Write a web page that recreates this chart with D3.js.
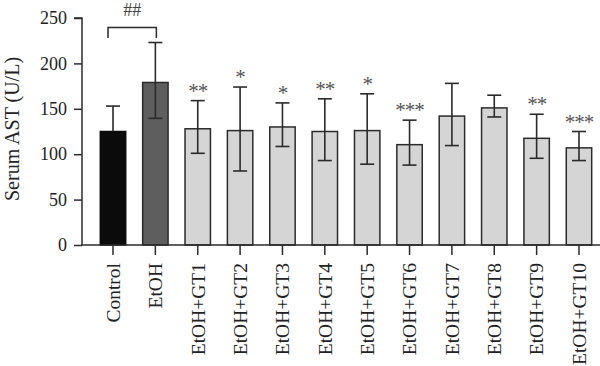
<!DOCTYPE html>
<html><head><meta charset="utf-8">
<script src="https://cdn.jsdelivr.net/npm/d3@7"></script>
<style>body{margin:0;background:#fff}svg{display:block}</style>
</head><body>
<svg id="c" width="600" height="366"></svg>
<script>
const categories = ["Control","EtOH","EtOH+GT1","EtOH+GT2","EtOH+GT3","EtOH+GT4","EtOH+GT5","EtOH+GT6","EtOH+GT7","EtOH+GT8","EtOH+GT9","EtOH+GT10"];
const means = [125,179,128,126,130,125,126,110.5,142,151,117.5,107];
const errUpper = [153,223,159,174,156.5,161,166.5,137.5,178,165,144,125];
const errLower = [97,139.5,101,81.5,108.5,93,89,88,109.5,141,95.5,93];
const sigLabels = ["","","**","*","*","**","*","***","","","**","***"];
const yTicks = [0,50,100,150,200,250];
const barColors = ["#0b0b0b","#5e5e5e","#d5d5d5"];

const svg = d3.select("#c");
const font = "Liberation Serif";
const x = d3.scaleBand().domain(categories).range([82,610]).paddingInner(0.4).paddingOuter(0.432);
const y = d3.scaleLinear().domain([0,250]).range([245,18]);
const ink = "#2b2b2b";

// bars
svg.selectAll("rect.bar").data(categories).enter().append("rect")
  .attr("x", d=>x(d)).attr("width", x.bandwidth())
  .attr("y", (d,i)=>y(means[i])).attr("height",(d,i)=>y(0)-y(means[i]))
  .attr("fill",(d,i)=>barColors[Math.min(i,2)])
  .attr("stroke",(d,i)=> i===0 ? "#0b0b0b" : ink).attr("stroke-width",1.5);

// error bars
const cap = 7;
categories.forEach((c,i)=>{
  const cx = x(c)+x.bandwidth()/2;
  const g = svg.append("g").attr("stroke", ink).attr("stroke-width",1.6).attr("fill","none");
  const lo = i===0 ? means[i] : errLower[i];
  g.append("line").attr("x1",cx).attr("x2",cx).attr("y1",y(errUpper[i])).attr("y2",y(lo));
  g.append("line").attr("x1",cx-cap).attr("x2",cx+cap).attr("y1",y(errUpper[i])).attr("y2",y(errUpper[i]));
  if(i!==0) g.append("line").attr("x1",cx-cap).attr("x2",cx+cap).attr("y1",y(errLower[i])).attr("y2",y(errLower[i]));
  if(sigLabels[i]) svg.append("text").attr("x",cx).attr("y",y(errUpper[i])-3)
    .attr("text-anchor","middle").attr("font-family",font).attr("font-size",21)
    .attr("letter-spacing",-1).attr("fill","#555").text(sigLabels[i]);
});

// bracket ##
const c0 = x(categories[0])+x.bandwidth()/2-5, c1 = x(categories[1])+x.bandwidth()/2+1;
const by = y(errUpper[1]);
svg.append("path").attr("d",`M${c0},${by-4.5}V${by-15}H${c1}V${by-4.5}`)
  .attr("fill","none").attr("stroke",ink).attr("stroke-width",1.5);
svg.append("text").attr("x",(c0+c1)/2).attr("y",by-26.5).attr("text-anchor","middle")
  .attr("font-family",font).attr("font-size",18).attr("fill","#444").text("##");

// y axis
const ya = svg.append("g").attr("transform","translate(82,0)")
  .call(d3.axisLeft(y).tickValues(yTicks).tickSize(8).tickPadding(7));
ya.select(".domain").attr("stroke",ink).attr("stroke-width",1.5).attr("d","M-8,18H0V245");
ya.selectAll(".tick line").attr("stroke",ink).attr("stroke-width",1.5);
ya.selectAll(".tick text").attr("font-family",font).attr("font-size",18).attr("fill","#222");

// x axis
const xa = svg.append("g").attr("transform","translate(0,245)")
  .call(d3.axisBottom(x).tickSize(10).tickPadding(0));
xa.select(".domain").attr("stroke",ink).attr("stroke-width",1.5).attr("d","M82,0H600");
xa.selectAll(".tick line").attr("stroke",ink).attr("stroke-width",1.5);
xa.selectAll(".tick text").attr("font-family",font).attr("font-size",19.5).attr("fill","#222")
  .attr("text-anchor","end").attr("transform","translate(0,18) rotate(-90)")
  .attr("x",0).attr("y",0).attr("dy","0.35em");

// y label
svg.append("text").attr("transform","translate(19,129) rotate(-90)").attr("text-anchor","middle")
  .attr("font-family",font).attr("font-size",20).attr("fill","#222").text("Serum AST (U/L)");
</script>
</body></html>
